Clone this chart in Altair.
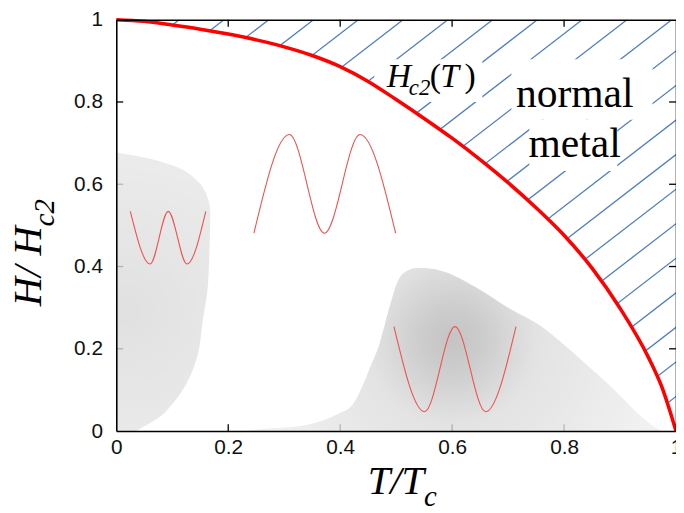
import altair as alt
import pandas as pd

# ---------------- data ----------------
# Upper critical field curve H_c2(T)
HC2_T = [0.0, 0.05, 0.1, 0.15, 0.2, 0.25, 0.3, 0.35, 0.4, 0.45, 0.5, 0.55, 0.6, 0.65, 0.7, 0.75, 0.8, 0.85, 0.9, 0.95, 0.975, 1.0]
HC2_H = [1.0, 0.996, 0.987, 0.977, 0.965, 0.951, 0.934, 0.913, 0.886, 0.850, 0.806, 0.760, 0.712, 0.660, 0.604, 0.543, 0.476, 0.396, 0.2985, 0.181, 0.106, 0.0]

# Hatch lines of the normal-metal region: T where each line meets H = 0
HATCH_T0 = [-0.84, -0.76, -0.68, -0.60, -0.52, -0.44, -0.36, -0.28, -0.20, -0.12, -0.04,
            0.04, 0.12, 0.20, 0.28, 0.36, 0.44, 0.52, 0.60, 0.68, 0.76, 0.84, 0.92]
HATCH_SLOPE = 1.05

# Grey region near T = 0 (right boundary T as a function of H)
LEFT_BLOB_H = [0.0, 0.007, 0.031, 0.072, 0.12, 0.183, 0.264, 0.344, 0.424, 0.529, 0.568, 0.608, 0.644, 0.665, 0.677]
LEFT_BLOB_T = [0.035, 0.044, 0.074, 0.104, 0.127, 0.145, 0.154, 0.163, 0.166, 0.168, 0.163, 0.145, 0.104, 0.05, 0.0]

# Grey region around T = 0.6 (upper boundary H as a function of T)
RIGHT_BLOB_T = [0.22, 0.27, 0.34, 0.393, 0.422, 0.44, 0.455, 0.469, 0.487, 0.504, 0.52, 0.54, 0.58, 0.641, 0.70, 0.759, 0.80, 0.848, 0.89, 0.936, 0.96, 0.975]
RIGHT_BLOB_H = [0.0, 0.006, 0.015, 0.04, 0.064, 0.11, 0.16, 0.207, 0.296, 0.368, 0.39, 0.397, 0.39, 0.351, 0.30, 0.255, 0.21, 0.152, 0.10, 0.038, 0.012, 0.0]

# Order-parameter sketches (peaks and troughs)
WAVE1_T = [0.0251, 0.0604, 0.0928, 0.1263, 0.1599]
WAVE1_H = [0.534, 0.406, 0.534, 0.406, 0.534]
WAVE2_T = [0.2459, 0.3092, 0.3719, 0.4355, 0.4991]
WAVE2_H = [0.481, 0.721, 0.481, 0.721, 0.481]
WAVE3_T = [0.4961, 0.5509, 0.6051, 0.6599, 0.7141]
WAVE3_H = [0.254, 0.047, 0.254, 0.047, 0.254]

AXIS_VALUES = [0, 0.2, 0.4, 0.6, 0.8, 1]
INNER_TICKS = [0.2, 0.4, 0.6, 0.8]

# white backgrounds behind the in-plot labels (T1, T2, H1, H2)
BOX_T1 = [0.461, 0.706, 0.738]
BOX_T2 = [0.654, 0.958, 0.895]
BOX_H1 = [0.904, 0.904, 0.757]
BOX_H2 = [0.800, 0.757, 0.632]

# italic labels
IT_TEXT = ["H", "c2", "T", "H/ H", "c2", "T/T", "c"]
IT_T = [0.4830, 0.5226, 0.5790, -0.1339, -0.1104, 0.4491, 0.5498]
IT_H = [0.8365, 0.8160, 0.8365, 0.3036, 0.498, -0.1531, -0.181]
IT_SIZE = [34, 23, 34, 41, 29, 41, 29]
IT_ANGLE = [0, 0, 0, 270, 270, 0, 0]

# upright labels
UP_TEXT = ["(", ")"]
UP_T = [0.560, 0.622]
UP_H = [0.8365, 0.8365]
NM_TEXT = ["normal", "metal"]
NM_T = [0.819, 0.819]
NM_H = [0.787, 0.666]

# ---------------- tables ----------------
curve_df = pd.DataFrame({"T": HC2_T, "H": HC2_H})
hatch_df = pd.DataFrame({
    "x0": HATCH_T0,
    "y0": [0.0] * len(HATCH_T0),
    "x1": [t + 1.0 / HATCH_SLOPE for t in HATCH_T0],
    "y1": [1.0] * len(HATCH_T0),
})
lblob_df = pd.DataFrame({"H": LEFT_BLOB_H, "T": LEFT_BLOB_T, "T0": [0.0] * len(LEFT_BLOB_H)})
rblob_df = pd.DataFrame({"T": RIGHT_BLOB_T, "H": RIGHT_BLOB_H})
wave_df = pd.concat([
    pd.DataFrame({"T": WAVE1_T, "H": WAVE1_H, "w": "a"}),
    pd.DataFrame({"T": WAVE2_T, "H": WAVE2_H, "w": "b"}),
    pd.DataFrame({"T": WAVE3_T, "H": WAVE3_H, "w": "c"}),
])
box_df = pd.DataFrame({"T1": BOX_T1, "T2": BOX_T2, "H1": BOX_H1, "H2": BOX_H2})
tb_df = pd.DataFrame({"T": INNER_TICKS, "H": [0.0] * 4})
tt_df = pd.DataFrame({"T": INNER_TICKS, "H": [1.0] * 4})
tl_df = pd.DataFrame({"T": [0.0] * 4, "H": INNER_TICKS})
tr_df = pd.DataFrame({"T": [1.0] * 4, "H": INNER_TICKS})
it_df = pd.DataFrame({"text": IT_TEXT, "T": IT_T, "H": IT_H, "size": IT_SIZE, "angle": IT_ANGLE})
up_df = pd.DataFrame({"text": UP_TEXT, "T": UP_T, "H": UP_H})
nm_df = pd.DataFrame({"text": NM_TEXT, "T": NM_T, "H": NM_H})

# ---------------- scales / axes ----------------
xs = alt.Scale(domain=[0, 1], nice=False, zero=False)
ys = alt.Scale(domain=[0, 1], nice=False, zero=False)

common = dict(values=AXIS_VALUES, format="~g", title=None, ticks=False, grid=False,
              domainColor="black", domainWidth=1.6, labelFont="Liberation Sans",
              labelFontSize=21, labelColor="#111111", labelFlush=False,
              labelOverlap=False, labelBound=False, zindex=1)
x_bottom = alt.Axis(orient="bottom", labelPadding=6, **common)
y_left = alt.Axis(orient="left", labelPadding=14, **common)
x_top = alt.Axis(orient="top", labels=False, ticks=False, grid=False, title=None,
                 domainColor="black", domainWidth=1.6, zindex=1)
y_right = alt.Axis(orient="right", labels=False, ticks=False, grid=False, title=None,
                   domainColor="black", domainWidth=1.6, zindex=1)


def X(f, axis=None):
    return alt.X(f, type="quantitative", scale=xs, axis=axis)


def Y(f, axis=None):
    return alt.Y(f, type="quantitative", scale=ys, axis=axis)


# ---------------- layers ----------------
hatch = alt.Chart(hatch_df).mark_rule(clip=True, color="#4f7fc0", strokeWidth=1.3).encode(
    x=X("x0"), y=Y("y0"), x2=alt.X2("x1"), y2=alt.Y2("y1"))

white_area = alt.Chart(curve_df).mark_area(color="white", interpolate="monotone", opacity=1).encode(
    x=X("T", x_bottom), y=Y("H", y_left))

boxes = alt.Chart(box_df).mark_rect(color="white", opacity=1).encode(
    x=X("T1"), x2=alt.X2("T2"), y=Y("H1"), y2=alt.Y2("H2"))

tick_kw = dict(color="black", opacity=1, thickness=1.3, size=7)
ticks_b = alt.Chart(tb_df).mark_tick(orient="vertical", yOffset=-3.5, **tick_kw).encode(x=X("T"), y=Y("H"))
ticks_t = alt.Chart(tt_df).mark_tick(orient="vertical", yOffset=3.5, **tick_kw).encode(x=X("T", x_top), y=Y("H"))
ticks_l = alt.Chart(tl_df).mark_tick(orient="horizontal", xOffset=3.5, **tick_kw).encode(x=X("T"), y=Y("H"))
ticks_r = alt.Chart(tr_df).mark_tick(orient="horizontal", xOffset=-3.5, **tick_kw).encode(x=X("T"), y=Y("H", y_right))

lgrad = alt.RadialGradient(
    gradient="radial",
    stops=[alt.GradientStop(color="#d9d9d9", offset=0), alt.GradientStop(color="#ebebeb", offset=1)],
    x1=0.37, y1=0.57, r1=0, x2=0.37, y2=0.57, r2=0.75)
left_blob = alt.Chart(lblob_df).mark_area(orient="horizontal", interpolate="monotone", opacity=0.8,
                                           color=lgrad).encode(
    y=Y("H"), x=X("T"), x2=alt.X2("T0"))

rgrad = alt.RadialGradient(
    gradient="radial",
    stops=[alt.GradientStop(color="#b5b5b5", offset=0),
           alt.GradientStop(color="#c0c0c0", offset=0.15),
           alt.GradientStop(color="#dcdcdc", offset=0.4),
           alt.GradientStop(color="#eeeeee", offset=1)],
    x1=0.504, y1=0.476, r1=0, x2=0.504, y2=0.476, r2=0.5)
right_blob = alt.Chart(rblob_df).mark_area(interpolate="monotone", opacity=0.8, color=rgrad).encode(
    x=X("T"), y=Y("H"))

waves = alt.Chart(wave_df).mark_line(interpolate="monotone", color="#ef5050", strokeWidth=1.1).encode(
    x=X("T"), y=Y("H"), detail="w:N")

curve = alt.Chart(curve_df).mark_line(interpolate="monotone", color="#ff0000", strokeWidth=3.6).encode(
    x=X("T"), y=Y("H"))

text_it = alt.Chart(it_df).mark_text(font="Liberation Serif", fontStyle="italic", align="left",
                                     baseline="alphabetic", color="black").encode(
    x=X("T"), y=Y("H"), text="text:N",
    size=alt.Size("size:Q", scale=None, legend=None),
    angle=alt.Angle("angle:Q", scale=None))

text_par = alt.Chart(up_df).mark_text(font="Liberation Serif", align="left", baseline="alphabetic",
                                      color="black", fontSize=34).encode(
    x=X("T"), y=Y("H"), text="text:N")

text_nm = alt.Chart(nm_df).mark_text(font="Liberation Serif", align="center", baseline="alphabetic",
                                     color="black", fontSize=42).encode(
    x=X("T"), y=Y("H"), text="text:N")

chart = alt.layer(
    hatch, white_area, boxes, ticks_b, ticks_t, ticks_l, ticks_r,
    left_blob, right_blob, waves, curve, text_it, text_par, text_nm
).resolve_axis(x="independent", y="independent").properties(
    width=566, height=416,
    padding={"left": 109.5, "top": 9, "right": 0, "bottom": 80},
    autosize=alt.AutoSizeParams(type="none"),
    background="white",
).configure_view(stroke=None)

chart.save("out.html", embed_options={"renderer": "svg", "actions": False})
